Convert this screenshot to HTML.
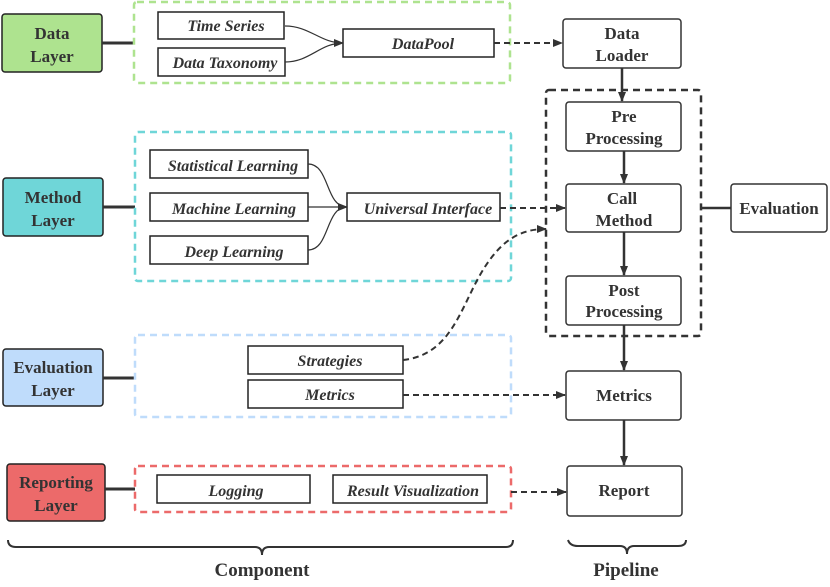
<!DOCTYPE html>
<html><head><meta charset="utf-8"><style>
html,body{margin:0;padding:0;background:#fff}
svg text{font-family:"Liberation Serif","DejaVu Serif",serif;font-weight:bold;fill:#333}
</style></head><body>
<svg width="830" height="582" viewBox="0 0 830 582" xmlns="http://www.w3.org/2000/svg" font-family="Liberation Serif, serif" font-weight="bold">
<defs>
<marker id="a" markerWidth="10" markerHeight="8" refX="9" refY="4" orient="auto" markerUnits="userSpaceOnUse"><path d="M0,0 L10,4 L0,8 Z" fill="#333"/></marker>
</defs>
<g font-size="17" text-anchor="middle">
<rect x="2" y="14" width="100" height="58" rx="3" fill="#aee38f" stroke="#222" stroke-width="1.5"/>
<text x="52" y="39">Data</text><text x="52" y="62">Layer</text>
<rect x="3" y="178" width="100" height="58" rx="3" fill="#6fd6d8" stroke="#222" stroke-width="1.5"/>
<text x="53" y="203">Method</text><text x="53" y="226">Layer</text>
<rect x="3" y="349" width="100" height="57" rx="3" fill="#bfdcfb" stroke="#222" stroke-width="1.5"/>
<text x="53" y="373">Evaluation</text><text x="53" y="396">Layer</text>
<rect x="7" y="464" width="98" height="57" rx="3" fill="#ec6a6a" stroke="#222" stroke-width="1.5"/>
<text x="56" y="488">Reporting</text><text x="56" y="511">Layer</text>
<g stroke="#333" stroke-width="3">
<line x1="102" y1="43" x2="134" y2="43"/><line x1="103" y1="207" x2="135" y2="207"/>
<line x1="103" y1="378" x2="135" y2="378"/><line x1="105" y1="489" x2="135" y2="489"/>
</g>
<g fill="none" stroke-width="2.5" stroke-dasharray="7,5">
<rect x="134" y="2" width="376" height="81" rx="3" stroke="#aee38f"/>
<rect x="135" y="132" width="376" height="149" rx="3" stroke="#6fd6d8"/>
<rect x="135" y="335" width="376" height="82" rx="3" stroke="#bfdcfb"/>
<rect x="135" y="466" width="376" height="46" rx="3" stroke="#ec6a6a"/>
<rect x="546" y="90" width="155" height="246" rx="3" stroke="#333"/>
</g>
<g fill="#fff" stroke="#222" stroke-width="1.5">
<rect x="158" y="12" width="126" height="27"/><rect x="158" y="48" width="127" height="28"/>
<rect x="343" y="29" width="151" height="28"/>
<rect x="150" y="150" width="158" height="28"/><rect x="150" y="193" width="158" height="28"/>
<rect x="150" y="236" width="158" height="28"/><rect x="347" y="193" width="153" height="28"/>
<rect x="248" y="346" width="155" height="28"/><rect x="248" y="380" width="155" height="28"/>
<rect x="157" y="475" width="153" height="28"/><rect x="333" y="475" width="154" height="28"/>
</g>
<g font-size="16" font-style="italic">
<text x="226" y="31" font-style="italic">Time Series</text><text x="225" y="68" font-style="italic">Data Taxonomy</text>
<text x="423" y="49" font-style="italic">DataPool</text>
<text x="233" y="171" font-style="italic">Statistical Learning</text><text x="234" y="214" font-style="italic">Machine Learning</text>
<text x="234" y="257" font-style="italic">Deep Learning</text><text x="428" y="214" font-style="italic">Universal Interface</text>
<text x="330" y="366" font-style="italic">Strategies</text><text x="330" y="400" font-style="italic">Metrics</text>
<text x="236" y="496" font-style="italic">Logging</text><text x="413" y="496" font-style="italic">Result Visualization</text>
</g>
<g fill="none" stroke="#333" stroke-width="1.2">
<path d="M285,26 C310,26 320,43 343,43" marker-end="url(#a)"/>
<path d="M285,62 C310,62 320,43 343,43"/>
<path d="M308,164 C330,164 325,207 347,207" marker-end="url(#a)"/>
<path d="M308,207 L347,207"/>
<path d="M308,250 C330,250 325,207 347,207"/>
</g>
<g fill="none" stroke="#333" stroke-width="2" stroke-dasharray="6,4">
<line x1="494" y1="43" x2="562" y2="43" marker-end="url(#a)"/>
<line x1="500" y1="208" x2="565" y2="208" marker-end="url(#a)"/>
<path d="M403,360 C450,355 460,310 480,275 C500,240 520,229 546,229" marker-end="url(#a)"/>
<line x1="403" y1="395" x2="565" y2="395" marker-end="url(#a)"/>
<line x1="511" y1="492" x2="566" y2="492" marker-end="url(#a)"/>
</g>
<g fill="#fff" stroke="#333" stroke-width="1.5">
<rect x="563" y="19" width="118" height="49" rx="3"/>
<rect x="566" y="102" width="115" height="49" rx="3"/>
<rect x="566" y="184" width="115" height="48" rx="3"/>
<rect x="566" y="276" width="115" height="49" rx="3"/>
<rect x="566" y="371" width="115" height="49" rx="3"/>
<rect x="567" y="466" width="115" height="50" rx="3"/>
<rect x="731" y="184" width="96" height="48" rx="3"/>
</g>
<text x="622" y="39">Data</text><text x="622" y="61">Loader</text>
<text x="624" y="122">Pre</text><text x="624" y="144">Processing</text>
<text x="622" y="204">Call</text><text x="624" y="226">Method</text>
<text x="624" y="296">Post</text><text x="624" y="317">Processing</text>
<text x="624" y="401">Metrics</text>
<text x="624" y="496">Report</text>
<text x="779" y="214">Evaluation</text>
<g stroke="#333" stroke-width="2.5" fill="none">
<line x1="622" y1="68" x2="622" y2="101" marker-end="url(#a)"/>
<line x1="624" y1="151" x2="624" y2="183" marker-end="url(#a)"/>
<line x1="624" y1="232" x2="624" y2="275" marker-end="url(#a)"/>
<line x1="624" y1="325" x2="624" y2="370" marker-end="url(#a)"/>
<line x1="624" y1="420" x2="624" y2="465" marker-end="url(#a)"/>
<line x1="701" y1="208" x2="731" y2="208"/>
</g>
<g fill="none" stroke="#333" stroke-width="2">
<path d="M8,540 Q8,547 16,547 L255,547 Q262,547 262,555 Q262,547 269,547 L506,547 Q513,547 513,540"/>
<path d="M568,540 Q570,546 578,546 L620,546 Q627,546 627,554 Q627,546 634,546 L678,546 Q686,546 686,540"/>
</g>
<text x="262" y="576" font-size="19">Component</text>
<text x="626" y="576" font-size="19">Pipeline</text>
</g>
</svg>
</body></html>
